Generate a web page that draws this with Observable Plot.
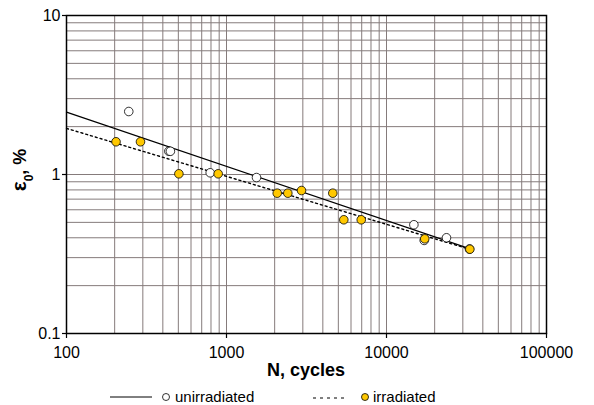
<!DOCTYPE html>
<html><head><meta charset="utf-8">
<script src="https://cdn.jsdelivr.net/npm/d3@7"></script>
<script src="https://cdn.jsdelivr.net/npm/@observablehq/plot@0.6"></script>
<style>
body{margin:0;background:#fff;font-family:"Liberation Sans",Arial,Helvetica,sans-serif;}
#chart svg{display:block}
#legend{display:block}
</style></head><body><div id="chart"></div>
<script>
// Unirradiated (open circles)
const unirrN = [245, 436, 446, 791, 1540, 14830, 17200, 23710, 33000];
const unirrE = [2.49, 1.40, 1.40, 1.025, 0.957, 0.483, 0.385, 0.400, 0.34];
// Irradiated (yellow circles)
const irrN = [204, 290, 504, 887, 2075, 2417, 2943, 4617, 5410, 6950, 17340, 33180];
const irrE = [1.606, 1.606, 1.01, 1.01, 0.763, 0.763, 0.793, 0.763, 0.519, 0.519, 0.394, 0.339];
// Power trendlines (end points)
const trendN = [100, 33000];
const unirrTrendE = [2.47, 0.342];
const irrTrendE = [1.95, 0.339];
// Tick labels
const xTicks = [100, 1000, 10000, 100000];
const yTicks = [0.1, 1, 10];
const xDomain = [100, 100000];
const yDomain = [0.1, 10];

const unirr = unirrN.map((n, i) => ({N: n, e: unirrE[i]}));
const irr = irrN.map((n, i) => ({N: n, e: irrE[i]}));
const unirrTrend = trendN.map((n, i) => ({N: n, e: unirrTrendE[i]}));
const irrTrend = trendN.map((n, i) => ({N: n, e: irrTrendE[i]}));
const gridXv = d3.scaleLog().domain(xDomain).ticks();
const gridYv = d3.scaleLog().domain(yDomain).ticks();

const gridColor = "#857b7b";
const font = '"Liberation Sans", Arial, Helvetica, sans-serif';

const plot = Plot.plot({
  width: 594, height: 385,
  marginLeft: 66, marginRight: 48, marginTop: 15, marginBottom: 52,
  style: {fontFamily: font, fontSize: "16px", color: "black", background: "white", overflow: "visible"},
  x: {type: "log", domain: xDomain, ticks: xTicks, tickFormat: d => String(d), tickSize: 5, tickPadding: 8, label: null},
  y: {type: "log", domain: yDomain, ticks: yTicks, tickFormat: d => (d === 0.1 ? "0.1" : String(d)), tickSize: 4, tickPadding: 2, label: null},
  marks: [
    Plot.gridX(gridXv, {stroke: gridColor, strokeOpacity: 1, strokeWidth: 1}),
    Plot.gridY(gridYv, {stroke: gridColor, strokeOpacity: 1, strokeWidth: 1}),
    Plot.line(unirrTrend, {x: "N", y: "e", stroke: "black", strokeWidth: 1.2}),
    Plot.line(irrTrend, {x: "N", y: "e", stroke: "black", strokeWidth: 1.4, strokeDasharray: "2,3"}),
    Plot.dot(unirr, {x: "N", y: "e", r: 4.3, fill: "white", stroke: "black", strokeWidth: 0.8}),
    Plot.dot(irr, {x: "N", y: "e", r: 4.3, fill: "#FFC800", stroke: "black", strokeWidth: 0.8}),
    Plot.frame({stroke: "black", strokeWidth: 1.5}),
    Plot.axisX({ticks: xTicks, tickFormat: d => String(d), tickSize: 5, tickPadding: 8, stroke: "black", strokeWidth: 1.2}),
    Plot.axisY({ticks: yTicks, tickFormat: d => (d === 0.1 ? "0.1" : String(d)), tickSize: 4, tickPadding: 2, stroke: "black", strokeWidth: 1.2})
  ]
});

const svg = d3.select(plot);
// x-axis title
svg.append("text")
  .attr("x", 306).attr("y", 376)
  .attr("text-anchor", "middle")
  .attr("font-family", font).attr("font-weight", "bold").attr("font-size", 18)
  .attr("fill", "black")
  .text("N, cycles");
// y-axis title with subscript
const yt = svg.append("text")
  .attr("transform", "translate(26,170) rotate(-90)")
  .attr("text-anchor", "middle")
  .attr("font-family", font).attr("font-weight", "bold").attr("font-size", 18)
  .attr("fill", "black");
yt.append("tspan").attr("font-size", 21).text("ε");
yt.append("tspan").attr("baseline-shift", "sub").attr("font-size", 12).text("0");
yt.append("tspan").text(", %");

document.getElementById("chart").appendChild(plot);

// Legend (below the SVG)
const leg = d3.select("#chart").append("svg")
  .attr("id", "legend").attr("width", 594).attr("height", 20)
  .style("font-family", font).style("font-size", "15px");
leg.append("line").attr("x1", 110).attr("x2", 152).attr("y1", 12).attr("y2", 12).attr("stroke", "black").attr("stroke-width", 1);
leg.append("circle").attr("cx", 166).attr("cy", 12).attr("r", 3.5).attr("fill", "white").attr("stroke", "black").attr("stroke-width", 0.8);
leg.append("text").attr("x", 175).attr("y", 17).text("unirradiated");
leg.append("line").attr("x1", 313).attr("x2", 347).attr("y1", 13).attr("y2", 13).attr("stroke", "black").attr("stroke-width", 1.2).attr("stroke-dasharray", "3,4");
leg.append("circle").attr("cx", 365).attr("cy", 12).attr("r", 3.5).attr("fill", "#FFC800").attr("stroke", "black").attr("stroke-width", 0.8);
leg.append("text").attr("x", 373).attr("y", 17).text("irradiated");
</script></body></html>
